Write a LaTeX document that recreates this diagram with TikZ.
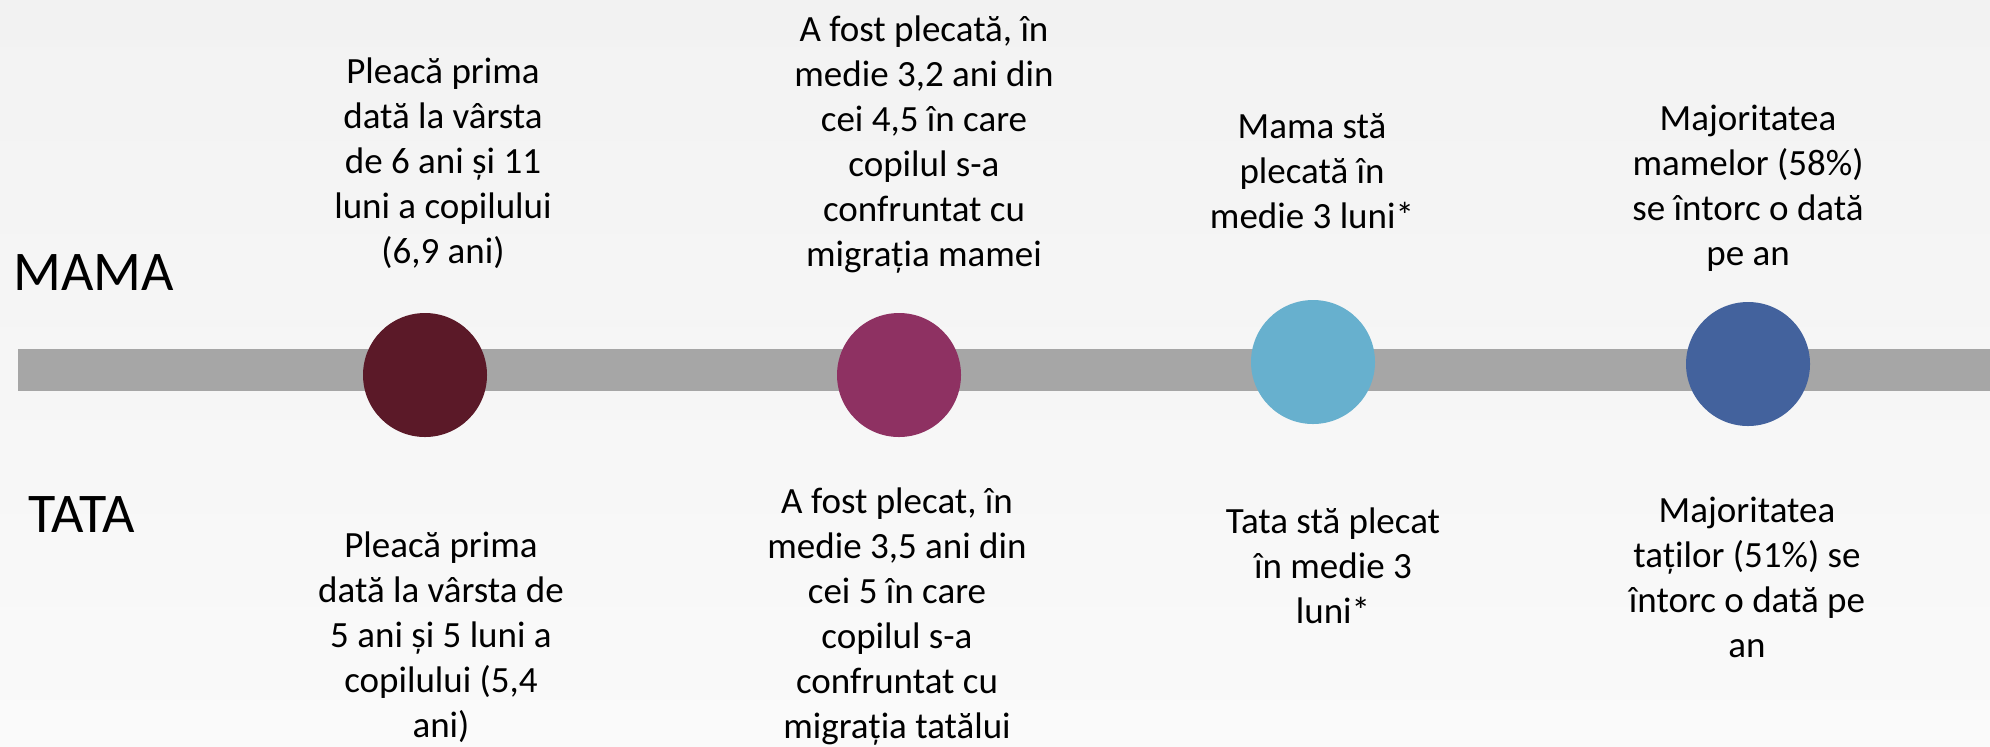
\documentclass[tikz,border=0pt]{standalone}
\usepackage{fontspec}
\setmainfont{Carlito}
\definecolor{bgtop}{RGB}{242,242,242}
\definecolor{bgbot}{RGB}{250,250,250}
\definecolor{barG}{RGB}{166,166,166}
\definecolor{D1}{RGB}{91,25,40}
\definecolor{D2}{RGB}{142,49,98}
\definecolor{D3}{RGB}{103,176,206}
\definecolor{D4}{RGB}{67,98,157}
\tikzset{stopdot/.style={circle,minimum size=62pt,inner sep=0pt},
         factbox/.style={align=center,inner sep=0pt,anchor=base,font=\fontsize{18.5}{22.5}\selectfont},
         rolelabel/.style={anchor=base west,inner sep=0pt,font=\fontsize{28}{32}\selectfont}}

\begin{document}
\begin{tikzpicture}[x=0.5pt,y=-0.5pt]
    \useasboundingbox (0,0) rectangle (1990,746);
    \shade[top color=bgtop, bottom color=bgbot] (0,0) rectangle (1990,746);
    \fill[barG] (18,349) rectangle (1990,391);
    \node[stopdot, fill=D1] (d1) at (425,375) {};
    \node[stopdot, fill=D2] (d2) at (899,375) {};
    \node[stopdot, fill=D3] (d3) at (1313,362) {};
    \node[stopdot, fill=D4] (d4) at (1748,364) {};
    \node[rolelabel] (mama) at (13,290) {MAMA};
    \node[rolelabel] (tata) at (28,532) {TATA};
    \node[factbox] (m1) at (443,263) {Pleacă prima\\dată la vârsta\\de 6 ani și 11\\luni a copilului\\(6,9 ani)};
    \node[factbox] (m2) at (924,266) {A fost plecată, în\\medie 3,2 ani din\\cei 4,5 în care\\copilul s-a\\confruntat cu\\migrația mamei};
    \node[factbox] (m3) at (1312,228) {Mama stă\\plecată în\\medie 3 luni*};
    \node[factbox] (m4) at (1748,265) {Majoritatea\\mamelor (58\%)\\se întorc o dată\\pe an};
    \node[factbox] (t1) at (441,737) {Pleacă prima\\dată la vârsta de\\5 ani și 5 luni a\\copilului (5,4\\ani)};
    \node[factbox] (t2) at (897,738) {A fost plecat, în\\medie 3,5 ani din\\cei 5 în care\\copilul s-a\\confruntat cu\\migrația tatălui};
    \node[factbox] (t3) at (1333,623) {Tata stă plecat\\în medie 3\\luni*};
    \node[factbox] (t4) at (1747,657) {Majoritatea\\taților (51\%) se\\întorc o dată pe\\an};
\end{tikzpicture}
\end{document}
